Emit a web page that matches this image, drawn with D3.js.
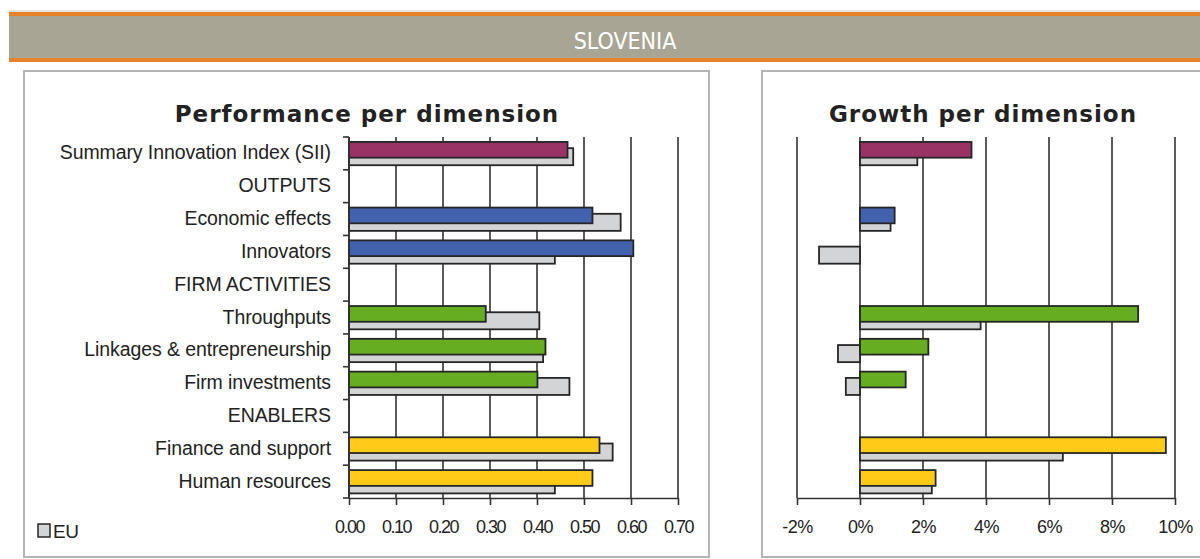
<!DOCTYPE html>
<html>
<head>
<meta charset="utf-8">
<script src="https://cdn.jsdelivr.net/npm/d3@7"></script>
<style>
  body { margin: 0; background: #fff; }
  svg { display: block; }
</style>
</head>
<body>
<div id="chart"></div>
<script>

WIDTH = 1200;
HEIGHT = 559;

// data

var categories = [
    "Summary Innovation Index (SII)",
    "OUTPUTS",
    "Economic effects",
    "Innovators",
    "FIRM ACTIVITIES",
    "Throughputs",
    "Linkages & entrepreneurship",
    "Firm investments",
    "ENABLERS",
    "Finance and support",
    "Human resources"
];

var groups = [ "sii", null, "out", "out", null, "firm", "firm", "firm", null, "en", "en" ];

var perf_country = [ 0.465, null, 0.518, 0.605, null, 0.291, 0.418, 0.401, null, 0.533, 0.518 ];
var perf_eu      = [ 0.477, null, 0.578, 0.438, null, 0.405, 0.413, 0.469, null, 0.561, 0.438 ];

var growth_country = [ 0.0354, null, 0.0110, null, null, 0.0883, 0.0217, 0.0145, null, 0.0971, 0.0240 ];
var growth_eu      = [ 0.0182, null, 0.0097, -0.0130, null, 0.0383, -0.0070, -0.0045, null, 0.0644, 0.0228 ];

var perf_ticks = [ 0, 0.1, 0.2, 0.3, 0.4, 0.5, 0.6, 0.7 ];
var growth_ticks = [ -0.02, 0, 0.02, 0.04, 0.06, 0.08, 0.10 ];

var group_colour = {
    'sii': "#993366",
    'out': "#4262ad",
    'firm': "#67ad22",
    'en': "#fecb19"
};

EU_COLOUR = "#d3d4d6";
BAR_STROKE = "#262626";
GRID = "#333";
FONT = "'Liberation Sans', Arial, sans-serif";

var svg = d3.select("#chart").append("svg")
    .attr("width", WIDTH)
    .attr("height", HEIGHT);

// header band

svg.append("rect").attr("x", 9).attr("y", 10).attr("width", WIDTH).attr("height", 2).attr("fill", "#e4e4e4");
svg.append("rect").attr("x", 9).attr("y", 12).attr("width", WIDTH).attr("height", 4).attr("fill", "#e8822a");
svg.append("rect").attr("x", 9).attr("y", 16).attr("width", WIDTH).attr("height", 42).attr("fill", "#a9a595");
svg.append("rect").attr("x", 9).attr("y", 58).attr("width", WIDTH).attr("height", 4).attr("fill", "#e8822a");

svg.append("text")
    .attr("x", 625).attr("y", 49)
    .attr("text-anchor", "middle")
    .attr("fill", "#fff")
    .style("font-family", "'Liberation Sans Narrow', 'DejaVu Sans Condensed', sans-serif")
    .style("font-size", "23px")
    .text("SLOVENIA");

// panel frames

svg.append("rect").attr("x", 24).attr("y", 71).attr("width", 685).attr("height", 486)
    .attr("fill", "none").attr("stroke", "#b4b4b4").attr("stroke-width", 2);
svg.append("rect").attr("x", 762).attr("y", 71).attr("width", 460).attr("height", 486)
    .attr("fill", "none").attr("stroke", "#b4b4b4").attr("stroke-width", 2);


var y = d3.scaleBand()
    .domain(categories)
    .range([137, 498])
    .paddingInner(0)
    .paddingOuter(0);

var bw = y.bandwidth();


function draw_panel(x, ticks, fmt, country, eu, title, title_x, label_spacing) {

    var g = svg.append("g");

    // gridlines
    g.append("g")
        .selectAll("line")
        .data(ticks).enter()
        .append("line")
        .attr("x1", function (d) { return x(d) })
        .attr("x2", function (d) { return x(d) })
        .attr("y1", y.range()[0])
        .attr("y2", y.range()[1])
        .attr("stroke", GRID)
        .attr("stroke-width", 1.6);

    // x axis line with ticks
    var axis = g.append("g")
        .attr("transform", "translate(0," + y.range()[1] + ")")
        .call(d3.axisBottom(x).tickValues(ticks).tickSize(7).tickSizeOuter(0).tickFormat(fmt));

    axis.select(".domain").attr("stroke", GRID).attr("stroke-width", 1.6);
    axis.selectAll(".tick line").attr("stroke", GRID).attr("stroke-width", 1.6);
    axis.selectAll(".tick text")
        .attr("y", 22)
        .attr("fill", "#222")
        .style("font-family", FONT)
        .style("font-size", "18px")
        .style("letter-spacing", label_spacing);

    // EU bars behind
    var idx = d3.range(categories.length);

    g.append("g")
        .selectAll("rect")
        .data(idx.filter(function (i) { return eu[i] != null }))
        .enter()
        .append("rect")
        .attr("x", function (i) { return Math.min(x(0), x(eu[i])) })
        .attr("width", function (i) { return Math.abs(x(eu[i]) - x(0)) })
        .attr("y", function (i) { return y(categories[i]) + bw * 0.34 })
        .attr("height", bw * 0.52)
        .attr("fill", EU_COLOUR)
        .attr("stroke", BAR_STROKE)
        .attr("stroke-width", 1.8);

    g.append("g")
        .selectAll("rect")
        .data(idx.filter(function (i) { return country[i] != null }))
        .enter()
        .append("rect")
        .attr("x", function (i) { return Math.min(x(0), x(country[i])) })
        .attr("width", function (i) { return Math.abs(x(country[i]) - x(0)) })
        .attr("y", function (i) { return y(categories[i]) + bw * 0.15 })
        .attr("height", bw * 0.48)
        .attr("fill", function (i) { return group_colour[groups[i]] })
        .attr("stroke", BAR_STROKE)
        .attr("stroke-width", 1.8);

    svg.append("text")
        .attr("x", title_x).attr("y", 122)
        .attr("text-anchor", "middle")
        .attr("fill", "#222")
        .style("font-family", "'DejaVu Sans', Verdana, sans-serif")
        .style("font-weight", "bold")
        .style("font-size", "23px")
        .style("letter-spacing", "1px")
        .text(title);

    return g;
}


var xp = d3.scaleLinear().domain([0, 0.7]).range([349, 678]);
var xg = d3.scaleLinear().domain([-0.02, 0.10]).range([797, 1175]);

var left = draw_panel(xp, perf_ticks, d3.format(".2f"), perf_country, perf_eu,
                      "Performance per dimension", 367, "-1.5px");
draw_panel(xg, growth_ticks, function (d) { return Math.round(d * 100) + "%" }, growth_country, growth_eu,
           "Growth per dimension", 983, "-0.5px");

// left category axis with ticks on band edges
var yaxis = left.append("g").attr("transform", "translate(" + xp(0) + ",0)");

yaxis.append("line")
    .attr("x1", 0).attr("x2", 0)
    .attr("y1", y.range()[0]).attr("y2", y.range()[1])
    .attr("stroke", GRID).attr("stroke-width", 1.6);

yaxis.selectAll("line.edge")
    .data(categories.map(function (c) { return y(c) }).concat([y.range()[1]]))
    .enter()
    .append("line")
    .attr("class", "edge")
    .attr("x1", -6).attr("x2", 0)
    .attr("y1", function (d) { return d })
    .attr("y2", function (d) { return d })
    .attr("stroke", GRID).attr("stroke-width", 1.6);

left.append("g")
    .selectAll("text")
    .data(categories).enter()
    .append("text")
    .attr("x", 331)
    .attr("y", function (d) { return y(d) + bw / 2 + 6 })
    .attr("text-anchor", "end")
    .attr("fill", "#222")
    .style("font-family", FONT)
    .style("font-size", "19.5px")
    .style("letter-spacing", "-0.1px")
    .text(function (d) { return d });

// legend
svg.append("rect")
    .attr("x", 38).attr("y", 524).attr("width", 12).attr("height", 13)
    .attr("fill", EU_COLOUR).attr("stroke", BAR_STROKE).attr("stroke-width", 1.5);
svg.append("text")
    .attr("x", 53).attr("y", 538)
    .attr("fill", "#222")
    .style("font-family", FONT)
    .style("font-size", "19px")
    .style("letter-spacing", "-0.5px")
    .text("EU");

</script>
</body>
</html>
